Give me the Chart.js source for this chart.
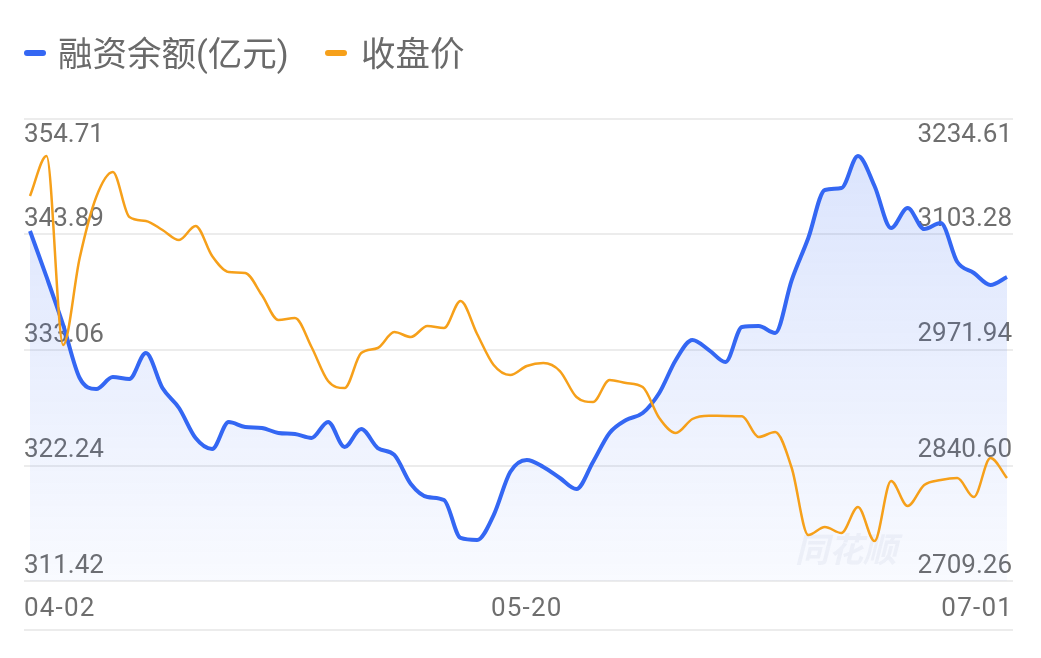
<!DOCTYPE html>
<html>
<head>
<meta charset="utf-8">
<script src="https://cdn.jsdelivr.net/npm/chart.js@4.4.1/dist/chart.umd.min.js"></script>
<style>
  html, body { margin: 0; padding: 0; background: #ffffff; }
  #wrap { position: relative; width: 1041px; height: 658px; overflow: hidden; }
  #wrap canvas { position: absolute; left: 0; top: 0; }
  .lg { position: absolute; top: 34px; line-height: 40px; font-size: 34.5px; color: #6a6a6a;
        font-family: Roboto, "Noto Sans CJK SC", sans-serif; white-space: nowrap; }
  .mk { position: absolute; top: 50px; width: 22px; height: 6px; border-radius: 3px; }
</style>
</head>
<body>
<div id="wrap">
  <canvas id="c"></canvas>
  <div class="mk" id="mk0" style="left:24px"></div>
  <div class="lg" id="lg0" style="left:58px"></div>
  <div class="mk" id="mk1" style="left:325px"></div>
  <div class="lg" id="lg1" style="left:361px"></div>
</div>
<script>
// ---------- data ----------
const seriesNames = ['融资余额(亿元)', '收盘价'];
const dates = [
  '04-02','04-03','04-07','04-08','04-09','04-10','04-11','04-14','04-15','04-16',
  '04-17','04-18','04-21','04-22','04-23','04-24','04-25','04-28','04-29','04-30',
  '05-06','05-07','05-08','05-09','05-12','05-13','05-14','05-15','05-16','05-19',
  '05-20','05-21','05-22','05-23','05-26','05-27','05-28','05-29','05-30','06-03',
  '06-04','06-05','06-06','06-09','06-10','06-11','06-12','06-13','06-16','06-17',
  '06-18','06-19','06-20','06-23','06-24','06-25','06-26','06-27','06-30','07-01'
];
const financing = [
  344.22,339.91,335.41,330.44,329.41,330.53,330.35,332.78,329.50,327.63,
  324.82,323.79,326.32,325.85,325.76,325.29,325.19,324.82,326.32,323.98,
  325.66,323.88,323.23,320.51,319.29,319.01,315.45,315.26,317.60,321.63,
  322.76,322.10,321.07,320.04,322.57,325.29,326.51,327.16,329.04,332.13,
  334.00,333.06,331.94,335.22,335.31,334.66,339.62,343.56,348.06,348.24,
  351.24,348.43,344.50,346.37,344.40,344.96,341.31,340.28,339.16,339.91
];
const closePrice = [
  3147.05,3192.54,2977.60,3076.55,3145.91,3174.34,3123.17,3118.62,3108.39,3097.02,
  3112.94,3078.82,3060.63,3059.49,3034.47,3006.04,3008.30,2975.34,2936.68,2928.72,
  2968.52,2974.21,2992.40,2986.71,2999.22,2996.95,3027.65,2990.12,2954.87,2943.50,
  2953.74,2957.15,2948.05,2918.49,2912.80,2937.82,2934.41,2929.86,2894.61,2877.55,
  2893.47,2897.20,2896.90,2896.50,2873.00,2878.69,2837.75,2761.56,2770.66,2763.83,
  2793.40,2754.74,2822.97,2794.54,2818.42,2824.10,2826.38,2804.77,2849.12,2826.38
];
const leftTicks  = [311.42, 322.24, 333.06, 343.89, 354.71];
const rightTicks = [2709.26, 2840.60, 2971.94, 3103.28, 3234.61];
const xTickLabels = ['04-02', '05-20', '07-01'];
const watermark = '同花顺';

// ---------- style ----------
const BLUE = '#3467f3';
const ORANGE = '#f6a01a';
const GRID = '#ececec';
const TEXT = '#6e6e6e';

document.getElementById('mk0').style.background = BLUE;
document.getElementById('mk1').style.background = ORANGE;
document.getElementById('lg0').textContent = seriesNames[0];
document.getElementById('lg1').textContent = seriesNames[1];

const decorPlugin = {
  id: 'decor',
  beforeDatasetsDraw(chart) {
    const { ctx, chartArea: a, scales } = chart;
    ctx.save();
    // grid lines
    ctx.strokeStyle = GRID;
    ctx.lineWidth = 2;
    leftTicks.forEach(v => {
      const y = Math.round(scales.y.getPixelForValue(v));
      ctx.beginPath(); ctx.moveTo(a.left, y); ctx.lineTo(a.right, y); ctx.stroke();
    });
    ctx.beginPath(); ctx.moveTo(a.left, a.bottom + 49); ctx.lineTo(a.right, a.bottom + 49); ctx.stroke();
    // watermark
    ctx.font = 'italic bold 34px "Noto Sans CJK SC"';
    ctx.fillStyle = 'rgba(175,182,205,0.14)';
    ctx.textAlign = 'left';
    ctx.textBaseline = 'middle';
    ctx.fillText(watermark, a.right - 218, a.bottom - 32);
    // y tick labels
    ctx.font = '26px Roboto';
    ctx.fillStyle = TEXT;
    ctx.textBaseline = 'middle';
    leftTicks.forEach(v => {
      let y = scales.y.getPixelForValue(v) - 15;
      if (y < a.top + 16) y = a.top + 16;
      ctx.textAlign = 'left';
      ctx.fillText(v.toFixed(2), a.left, y);
    });
    rightTicks.forEach(v => {
      let y = scales.y1.getPixelForValue(v) - 15;
      if (y < a.top + 16) y = a.top + 16;
      ctx.textAlign = 'right';
      ctx.fillText(v.toFixed(2), a.right - 1, y);
    });
    // x tick labels
    ctx.letterSpacing = '1.2px';
    xTickLabels.forEach((lab, k) => {
      const idx = dates.indexOf(lab);
      const x = scales.x.getPixelForValue(idx);
      const y = a.bottom + 28;
      if (k === 0) { ctx.textAlign = 'left'; ctx.fillText(lab, a.left, y); }
      else if (k === xTickLabels.length - 1) { ctx.textAlign = 'right'; ctx.fillText(lab, a.right, y); }
      else { ctx.textAlign = 'center'; ctx.fillText(lab, x, y); }
    });
    ctx.restore();
  }
};

const blueFill = (context) => {
  const chart = context.chart;
  const a = chart.chartArea;
  if (!a) return 'rgba(52,103,243,0.1)';
  const g = chart.ctx.createLinearGradient(0, a.top, 0, a.bottom);
  g.addColorStop(0, 'rgba(52,103,243,0.19)');
  g.addColorStop(1, 'rgba(52,103,243,0.03)');
  return g;
};

new Chart(document.getElementById('c'), {
  type: 'line',
  data: {
    datasets: [
      {
        label: seriesNames[0],
        data: financing.map((v, i) => ({ x: i, y: v })),
        yAxisID: 'y',
        borderColor: BLUE,
        borderWidth: 4,
        backgroundColor: blueFill,
        fill: 'start',
        pointRadius: 0,
        cubicInterpolationMode: 'monotone',
        order: 2
      },
      {
        label: seriesNames[1],
        data: closePrice.map((v, i) => ({ x: i, y: v })),
        yAxisID: 'y1',
        borderColor: ORANGE,
        borderWidth: 2.5,
        fill: false,
        pointRadius: 0,
        cubicInterpolationMode: 'monotone',
        order: 1
      }
    ]
  },
  options: {
    responsive: true,
    maintainAspectRatio: false,
    animation: false,
    devicePixelRatio: 1,
    layout: { padding: { top: 119, bottom: 77, left: 24, right: 28 } },
    plugins: { legend: { display: false }, tooltip: { enabled: false } },
    events: [],
    scales: {
      x: { type: 'linear', display: false, min: -0.3623, max: dates.length - 1 + 0.3623 },
      y: { type: 'linear', display: false, position: 'left',
           min: leftTicks[0], max: leftTicks[leftTicks.length - 1] },
      y1: { type: 'linear', display: false, position: 'right',
            min: rightTicks[0], max: rightTicks[rightTicks.length - 1] }
    }
  },
  plugins: [decorPlugin]
});
</script>
</body>
</html>
